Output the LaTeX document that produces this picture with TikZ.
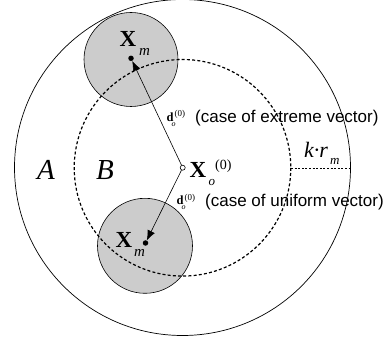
\documentclass[tikz,border=0pt]{standalone}
\usepackage{fontspec}
\setmainfont{Liberation Serif}
\newfontfamily\arialf{Liberation Sans}
\usetikzlibrary{arrows.meta}
\tikzset{
  lbl/.style={inner sep=0pt, anchor=base west},
  dotm/.style={circle, fill=black, inner sep=0pt, minimum size=5.5pt},
  origin/.style={circle, draw=black, fill=white, line width=0.6pt, inner sep=0pt, minimum size=5pt},
  vec/.style={line width=0.6pt, -{Latex[length=10pt,width=8pt]}},
  graydisc/.style={fill=black!20, draw=black, line width=0.6pt},
  dcircle/.style={line width=1.2pt, dash pattern=on 3pt off 2.2pt},
}
\newcommand{\fs}[1]{\fontsize{#1}{#1}\selectfont}
\begin{document}
\begin{tikzpicture}[x=1pt,y=-1pt]
\path[use as bounding box] (0,0) rectangle (390,344);
% outer circle
\draw[line width=0.7pt] (182.5,167.5) circle (168);
% gray discs
\draw[graydisc] (131,59.5) circle (47);
\draw[graydisc] (145,245.8) circle (47.5);
% dashed circle
\draw[dcircle] (182.5,167.8) circle (108.3);
% k r dashed radius
\coordinate (kin) at (291,168);
\coordinate (kout) at (350.5,168);
\draw[line width=0.7pt, dash pattern=on 2pt off 1.6pt] (kin) -- (kout);
% points
\node[dotm] (mtop) at (131,58.3) {};
\node[dotm] (mbot) at (145.5,243) {};
\node[origin] (o) at (182.7,167.7) {};
\draw[vec] (o) -- (mtop);
\draw[vec] (o) -- (mbot);
% labels
\node[lbl] (xt) at (119.5,46.5) {\fs{23}\bfseries X};
\node[lbl] (xtm) at (139,55.5) {\fs{15}\itshape m};
\node[lbl] (xb) at (115.5,247.5) {\fs{23}\bfseries X};
\node[lbl] (xbm) at (134,256.5) {\fs{15}\itshape m};
\node[lbl] (xo) at (189.5,178) {\fs{23}\bfseries X};
\node[lbl] (xoo) at (208.5,185.5) {\fs{13}\itshape o};
\node[lbl] (xos) at (215,170) {\fs{14}(0)};
% top d label
\node[lbl] (dt) at (166.5,121.5) {\fs{12.5}\bfseries d};
\node[lbl] (dto) at (171.5,126.5) {\fs{8}\itshape o};
\node[lbl] (dts) at (174.5,117) {\fs{9}(0)};
\node[lbl] (tt) at (195,123) {\arialf\fs{17}(case of extreme vector)};
% bottom d label
\node[lbl] (db) at (176.5,205) {\fs{12.5}\bfseries d};
\node[lbl] (dbo) at (181.5,210) {\fs{8}\itshape o};
\node[lbl] (dbs) at (184.5,200.5) {\fs{9}(0)};
\node[lbl] (tb) at (205,207) {\arialf\fs{17}(case of uniform vector)};
% k r_m
\node[lbl] (kr) at (304,157.5) {\fs{22}\itshape k\textperiodcentered r};
\node[lbl] (krm) at (330,164.5) {\fs{13}\itshape m};
% region labels
\node[lbl] (A) at (37,180) {\fs{29}\itshape A};
\node[lbl] (B) at (96,180) {\fs{29}\itshape B};
\end{tikzpicture}
\end{document}
